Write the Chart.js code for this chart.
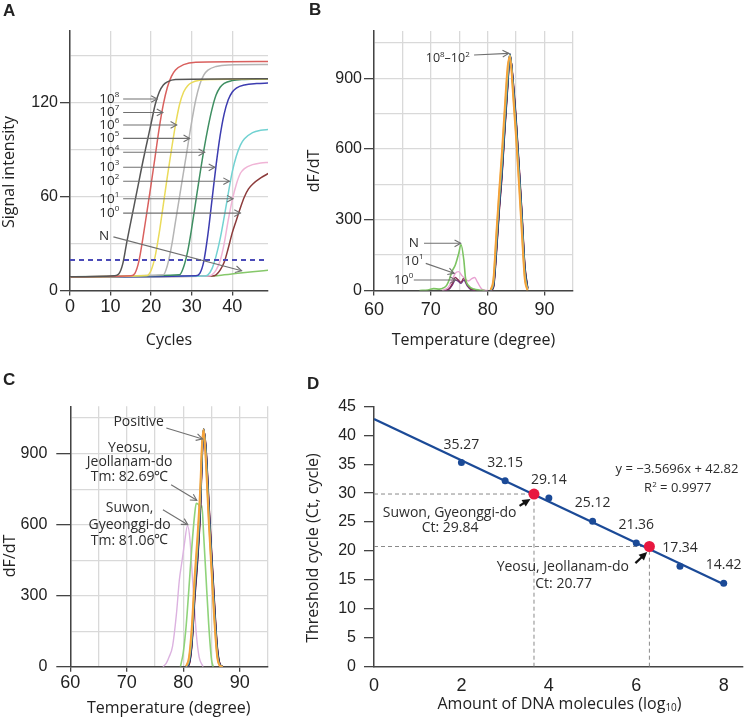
<!DOCTYPE html>
<html>
<head>
<meta charset="utf-8">
<script src="https://cdn.jsdelivr.net/npm/chart.js@4.4.1/dist/chart.umd.min.js"></script>
<style>
  html, body { margin: 0; padding: 0; background: #fff; }
  #wrap { position: relative; width: 748px; height: 726px; overflow: hidden; }
  canvas { position: absolute; }
  .tag { position: absolute; font: bold 17px "Liberation Sans", Arial, sans-serif; line-height: 17px; color: #222; }
</style>
</head>
<body>
<div id="wrap">
  <canvas id="cA" width="290" height="363" style="left:0;top:0"></canvas>
  <canvas id="cB" width="458" height="363" style="left:290px;top:0"></canvas>
  <canvas id="cC" width="290" height="363" style="left:0;top:363px"></canvas>
  <canvas id="cD" width="458" height="363" style="left:290px;top:363px"></canvas>
  <div class="tag" style="left:3px;top:2px">A</div>
  <div class="tag" style="left:309px;top:1px">B</div>
  <div class="tag" style="left:3px;top:371px">C</div>
  <div class="tag" style="left:307px;top:375px">D</div>
</div>
<script>
// ---------- A: amplification curves (cycle, signal) ----------
const aCyc8 = [0, 11, 12, 13, 14, 15, 16, 17, 18, 19, 20, 21, 22, 23, 24, 26, 49];
const aSig8 = [8.8, 9.5, 10.5, 17, 31, 44, 57, 70, 83, 95, 107, 119, 127, 131.5, 133.5, 135, 135.5];
const aCyc7 = [0, 15, 16, 17, 18, 19, 20, 21, 22, 23, 24, 25, 26, 28, 31, 49];
const aSig7 = [8.8, 9.4, 11, 19, 34, 51, 68, 86, 104, 119, 130, 137, 141, 144.5, 146, 146.5];
const aCyc6 = [0, 19, 20, 21, 22, 23, 24, 25, 26, 27, 28, 29, 30, 32, 35, 49];
const aSig6 = [8.8, 9.6, 13, 22, 37, 55, 73, 90, 106, 119, 127, 131, 133, 134.5, 135, 135.3];
const aCyc5 = [0, 23, 24, 25, 26, 27, 28, 29, 30, 31, 32, 33, 34, 36, 39, 49];
const aSig5 = [8.8, 10, 16, 28, 44, 60, 76, 92, 108, 122, 132, 138, 141, 143.3, 144.3, 144.5];
const aCyc4 = [0, 27, 28, 29, 30, 31, 32, 33, 34, 35, 36, 37, 38, 40, 43, 49];
const aSig4 = [8.8, 10, 15, 25, 40, 57, 74, 90, 104, 116, 125, 130, 132.5, 134.3, 135, 135.3];
const aCyc3 = [0, 31, 32, 33, 34, 35, 36, 37, 38, 39, 40, 41, 43, 46, 49];
const aSig3 = [8.8, 9.5, 11, 19, 36, 58, 80, 99, 113, 122, 127, 129.5, 131.5, 132.4, 132.7];
const aCyc2 = [0, 33, 34, 35, 36, 37, 38, 39, 40, 41, 42, 43, 45, 47, 49];
const aSig2 = [8.8, 9.3, 10, 14, 22, 33, 47, 62, 76, 86, 93, 97, 101, 102.5, 103];
const aCyc1 = [0, 34, 35, 36, 37, 38, 39, 40, 41, 42, 43, 45, 47, 49];
const aSig1 = [8.8, 9.3, 10, 13, 19, 30, 45, 58, 68, 75, 78, 80.5, 81.5, 82];
const aCyc0 = [0, 35, 36, 37, 38, 39, 40, 41, 42, 43, 44, 45, 47, 49];
const aSig0 = [8.8, 9.3, 10, 13, 18, 27, 37, 45, 53, 60, 65, 68, 72, 75];
const aCycN = [0, 34, 38, 42, 45, 49];
const aSigN = [8.8, 9.2, 10, 11.2, 12, 13];
const aThreshold = 19.5;

// ---------- B: melt curves of the standards (temperature, dF/dT) ----------
const bTemp = [80.5, 81, 81.5, 82, 82.5, 83, 83.5, 83.9, 84.5, 85, 85.5, 86, 86.5, 87];
const bQ8 = [2, 50, 240, 420, 590, 780, 950, 990, 810, 640, 445, 240, 50, 0];
const bQ7 = [1, 40, 220, 400, 565, 755, 925, 998, 830, 660, 470, 265, 65, 2];
const bQ6 = [0, 28, 190, 370, 525, 720, 895, 1000, 850, 690, 500, 300, 85, 5];
const bQ5 = [0, 22, 175, 355, 510, 705, 885, 1003, 860, 700, 510, 310, 95, 8];
const bQ4 = [0, 20, 170, 350, 505, 700, 880, 1001, 862, 703, 513, 313, 98, 8];
const bQ3 = [0, 16, 160, 340, 495, 690, 870, 998, 870, 712, 522, 322, 105, 10];
const bQ2 = [0, 14, 155, 335, 490, 685, 865, 995, 875, 718, 528, 328, 110, 12];
const bTempN = [68, 69.5, 70.5, 71.5, 72.3, 72.8, 73.3, 73.7, 74.3, 74.9, 75.3, 75.8, 76.1, 76.7, 77.6, 78.5, 79.5];
const bNeg   = [0, 2, 8, 6, 12, 23, 50, 80, 108, 157, 195, 129, 52, 19, 6, 2, 0];
const bTemp1 = [72, 73, 73.6, 74.3, 74.9, 75.5, 76.1, 76.6, 77.2, 77.7, 78.2, 79, 80];
const bQ1    = [0, 12, 35, 73, 80, 62, 48, 40, 50, 55, 35, 5, 0];
const bTemp0 = [72.5, 73.3, 73.8, 74.3, 74.8, 75.3, 75.8, 76.4, 77, 77.8];
const bQ0a   = [0, 10, 30, 55, 45, 35, 52, 25, 8, 0];
const bQ0b   = [0, 8, 24, 44, 40, 30, 44, 20, 5, 0];

// ---------- C: melt curves of field samples ----------
const cTemp = [80.5, 81, 81.5, 82, 82.5, 83, 83.3, 83.6, 84, 84.5, 85, 85.5, 86, 86.5, 87];
const cPos1 = [2, 40, 170, 380, 550, 760, 940, 1000, 860, 610, 400, 190, 40, 3, 0];
const cPos2 = [1, 30, 140, 350, 515, 725, 915, 1003, 880, 640, 420, 210, 50, 4, 0];
const cPos3 = [0, 20, 120, 330, 490, 700, 900, 1002, 900, 660, 440, 230, 60, 5, 0];
const cPos4 = [0, 15, 105, 310, 470, 680, 885, 1005, 910, 675, 455, 245, 70, 7, 0];
const cPos5 = [0, 12, 100, 300, 460, 670, 880, 1005, 915, 685, 465, 255, 75, 8, 0];
const cPos6 = [0, 10, 95, 290, 450, 660, 870, 1000, 920, 695, 475, 265, 80, 9, 0];
const cPos7 = [0, 8, 90, 280, 440, 650, 865, 998, 925, 700, 480, 270, 85, 10, 0];
const cTempYeosu = [79.5, 80, 80.5, 81, 81.5, 82, 82.3, 82.7, 83, 83.3, 83.6, 84, 84.5, 85, 85.3];
const cYeosu     = [0, 60, 170, 330, 500, 640, 690, 685, 670, 680, 560, 390, 180, 30, 0];
const cTempSuwon = [76.4, 77, 77.5, 78.1, 78.8, 79.3, 79.8, 80.2, 80.75, 81.2, 81.5, 81.9, 82.3, 82.8, 83.5];
const cSuwon     = [0, 15, 42, 86, 225, 365, 450, 519, 596, 533, 420, 280, 140, 42, 0];

// ---------- D: standard curve ----------
const dLog = [2, 3, 4, 5, 6, 7, 8];
const dCt = [35.27, 32.15, 29.14, 25.12, 21.36, 17.34, 14.42];
const fitX = [0, 8];
const fitY = [42.82, 14.26];
const sampleLog = [3.66, 6.3];
const sampleCt = [29.84, 20.77];

// ---------- helpers ----------
Chart.defaults.font.family = '"Liberation Sans", Arial, sans-serif';
Chart.defaults.color = '#222';
Chart.defaults.animation = false;

const pts = (xs, ys) => xs.map((x, i) => ({ x: x, y: ys[i] }));
const curve = (xs, ys, color, w) => ({
  data: pts(xs, ys), showLine: true, borderColor: color, borderWidth: w || 1.5,
  pointRadius: 0, fill: false, cubicInterpolationMode: 'monotone'
});

function label(c, x, y, it) {
  const size = it.size || 14, fam = it.font || '"Open Sans"';
  const parts = it.parts || [{ t: it.text }];
  const f = p => ((p.sup || p.sub) ? Math.round(size * 0.62) : size) + 'px ' + (p.serif ? '"Liberation Serif"' : fam);
  let w = 0;
  parts.forEach(p => { c.font = f(p); p.w = c.measureText(p.t).width; w += p.w; });
  c.save();
  c.translate(x, y);
  if (it.rot) c.rotate(-Math.PI / 2);
  c.fillStyle = it.color || '#2d2d2d';
  c.textBaseline = 'middle';
  c.textAlign = 'left';
  let cx = it.align === 'left' ? 0 : (it.align === 'right' ? -w : -w / 2);
  parts.forEach(p => {
    c.font = f(p);
    c.fillText(p.t, cx, p.sup ? -size * 0.33 : (p.sub ? size * 0.22 : 0));
    cx += p.w;
  });
  c.restore();
}

function arrow(c, x1, y1, x2, y2, it) {
  const a = Math.atan2(y2 - y1, x2 - x1), L = it.head || 7, s = it.filled ? 0.45 : 0.5;
  c.save();
  c.strokeStyle = c.fillStyle = it.color || '#707070';
  c.lineWidth = it.width || 1.1;
  c.beginPath();
  c.moveTo(x1, y1);
  if (it.filled) c.lineTo(x2 - L * 0.8 * Math.cos(a), y2 - L * 0.8 * Math.sin(a));
  else c.lineTo(x2, y2);
  c.stroke();
  const hx1 = x2 - L * Math.cos(a - s), hy1 = y2 - L * Math.sin(a - s);
  const hx2 = x2 - L * Math.cos(a + s), hy2 = y2 - L * Math.sin(a + s);
  c.beginPath();
  if (it.filled) { c.moveTo(x2, y2); c.lineTo(hx1, hy1); c.lineTo(hx2, hy2); c.closePath(); c.fill(); }
  else { c.moveTo(hx1, hy1); c.lineTo(x2, y2); c.lineTo(hx2, hy2); c.stroke(); }
  c.restore();
}

// annotations in data units, titles in canvas pixels
function annot(items, titles) {
  return {
    id: 'annot',
    afterDatasetsDraw(chart) {
      const c = chart.ctx, sx = chart.scales.x, sy = chart.scales.y;
      items.forEach(it => {
        if (it.arrow) {
          arrow(c, sx.getPixelForValue(it.arrow[0]), sy.getPixelForValue(it.arrow[1]),
                   sx.getPixelForValue(it.arrow[2]), sy.getPixelForValue(it.arrow[3]), it);
        } else {
          label(c, sx.getPixelForValue(it.at[0]) + (it.dx || 0), sy.getPixelForValue(it.at[1]) + (it.dy || 0), it);
        }
      });
      titles.forEach(t => label(c, t.px[0], t.px[1], Object.assign({ size: 16, color: '#222' }, t)));
    }
  };
}

function axes(o) {
  const tc = (show) => (ctx) => (show(ctx.tick.value) ? '#444' : 'rgba(0,0,0,0)');
  return {
    x: {
      type: 'linear', min: o.x[0], max: o.x[1],
      ticks: { stepSize: o.x[2], includeBounds: false, autoSkip: false, maxRotation: 0,
               padding: o.xpad, font: { size: 18 }, color: '#222',
               callback: v => (o.xl(v) ? v : '') },
      grid: { display: true, drawOnChartArea: o.grid, color: '#d9d9d9', lineWidth: 1.3,
              tickLength: o.xtl, tickWidth: 1.3, tickColor: tc(v => o.xmark && o.xl(v)) },
      border: { display: true, color: '#444', width: 1.5 },
      afterFit: s => { s.height = o.xh; }
    },
    y: {
      type: 'linear', min: o.y[0], max: o.y[1],
      ticks: { stepSize: o.y[2], includeBounds: false, autoSkip: false,
               padding: o.ypad, font: { size: 16 }, color: '#222',
               callback: v => (o.yl(v) ? v : '') },
      grid: { display: true, drawOnChartArea: o.grid, color: '#d9d9d9', lineWidth: 1.3,
              tickLength: o.ytl, tickWidth: 1.3, tickColor: tc(o.yl) },
      border: { display: true, color: '#444', width: 1.5 },
      afterFit: s => { s.width = o.yw; }
    }
  };
}

function make(id, datasets, scales, pad, items, titles) {
  return new Chart(document.getElementById(id), {
    type: 'scatter',
    data: { datasets: datasets },
    options: {
      responsive: false, devicePixelRatio: 1, events: [],
      layout: { padding: pad },
      plugins: { legend: { display: false }, tooltip: { enabled: false } },
      scales: scales
    },
    plugins: [annot(items, titles)]
  });
}

// ---------- Panel A ----------
const aRows = [['8', 122.5, 21.5], ['7', 113.9, 22.9], ['6', 105.9, 26.3], ['5', 97.3, 29.5],
               ['4', 88.4, 33.2], ['3', 78.8, 35.7], ['2', 69.9, 39.3], ['1', 58.7, 40.2], ['0', 49.5, 42.0]];
const aItems = [];
aRows.forEach(r => {
  aItems.push({ at: [7.2, r[1]], parts: [{ t: '10' }, { t: r[0], sup: true }], align: 'left', size: 13.5 });
  aItems.push({ arrow: [13.1, r[1], r[2], r[1]] });
});
aItems.push({ at: [8.4, 34.5], text: 'N', size: 13.5 });
aItems.push({ arrow: [10.7, 34.3, 42.3, 12.6] });

make('cA', [
  { data: pts([0, 48.8], [aThreshold, aThreshold]), showLine: true, borderColor: '#4a4ab8',
    borderWidth: 2, borderDash: [5, 4], pointRadius: 0 },
  curve(aCyc8, aSig8, '#555555'),
  curve(aCyc7, aSig7, '#d9605e'),
  curve(aCyc6, aSig6, '#eadb5a'),
  curve(aCyc5, aSig5, '#b5b5b5'),
  curve(aCyc4, aSig4, '#3f8f62'),
  curve(aCyc3, aSig3, '#3c3cb0'),
  curve(aCyc2, aSig2, '#72d2d2'),
  curve(aCyc1, aSig1, '#f0b4d6'),
  curve(aCyc0, aSig0, '#8c3b3b'),
  curve(aCycN, aSigN, '#86c86a')
], axes({ x: [0, 48.8, 10], xl: v => true, xmark: true, xtl: 5, xpad: 1, xh: 72.5,
          y: [0, 166, 30], yl: v => v % 60 === 0, ytl: 10, ypad: 2, yw: 70, grid: true }),
  { top: 31, right: 22, left: 0, bottom: 0 }, aItems,
  [{ text: 'Cycles', px: [169, 340] }, { text: 'Signal intensity', px: [9, 172], rot: true }]);

// ---------- Panel B ----------
const mainCols = ['#f5a23a', '#e3c26a', '#3a9aa0', '#26307e', '#303030', '#7c3fa0', '#a8322c'];
make('cB', [
  curve(bTemp, bQ8, mainCols[0], 1.8),
  curve(bTemp, bQ7, mainCols[1], 1.8),
  curve(bTemp, bQ6, mainCols[2], 1.8),
  curve(bTemp, bQ5, mainCols[3], 1.8),
  curve(bTemp, bQ4, mainCols[4], 1.8),
  curve(bTemp, bQ3, mainCols[5], 1.8),
  curve(bTemp, bQ2, mainCols[6], 1.8),
  curve(bTempN, bNeg, '#7cc462', 1.6),
  curve(bTemp1, bQ1, '#e8a2d2', 1.4),
  curve(bTemp0, bQ0a, '#8a2f55', 1.4),
  curve(bTemp0, bQ0b, '#6a3a8a', 1.4)
], axes({ x: [60, 95, 5], xl: v => v % 10 === 0, xmark: true, xtl: 5, xpad: 4, xh: 72.5,
          y: [0, 1100, 150], yl: v => v % 300 === 0, ytl: 10, ypad: 2, yw: 84, grid: true }),
  { top: 31, right: 175, left: 0, bottom: 0 },
  [
    { at: [69.1, 984], parts: [{ t: '10' }, { t: '8', sup: true }, { t: '\u201310' }, { t: '2', sup: true }], align: 'left', size: 12.5 },
    { arrow: [77.6, 998, 83.7, 1005] },
    { at: [67.0, 200], text: 'N', size: 13.5 },
    { arrow: [68.8, 200, 75.25, 200] },
    { at: [65.3, 125], parts: [{ t: '10' }, { t: '1', sup: true }], align: 'left', size: 13 },
    { arrow: [69.1, 115, 74.1, 73] },
    { at: [63.5, 44.5], parts: [{ t: '10' }, { t: '0', sup: true }], align: 'left', size: 13 },
    { arrow: [67.0, 44.5, 74.4, 44.5] }
  ],
  [{ text: 'Temperature (degree)', px: [183.5, 340] }, { text: 'dF/dT', px: [24, 171], rot: true }]);

// ---------- Panel C ----------
make('cC', [
  curve(cTemp, cPos1, mainCols[0], 1.8),
  curve(cTemp, cPos2, mainCols[1], 1.8),
  curve(cTemp, cPos3, mainCols[2], 1.8),
  curve(cTemp, cPos4, mainCols[3], 1.8),
  curve(cTemp, cPos5, mainCols[4], 1.8),
  curve(cTemp, cPos6, mainCols[5], 1.8),
  curve(cTemp, cPos7, mainCols[6], 1.8),
  curve(cTempYeosu, cYeosu, '#8fd37a', 1.6),
  curve(cTempSuwon, cSuwon, '#dcb2e0', 1.4)
], axes({ x: [60, 95, 5], xl: v => v % 10 === 0, xmark: true, xtl: 5, xpad: 1, xh: 59.3,
          y: [0, 1100, 150], yl: v => v % 300 === 0, ytl: 14, ypad: 9, yw: 70.3, grid: true }),
  { top: 43.3, right: 22, left: 0, bottom: 0 },
  [
    { at: [72.1, 1032], text: 'Positive' },
    { arrow: [77.0, 1008, 83.4, 962] },
    { at: [70.5, 924], text: 'Yeosu,' },
    { at: [70.5, 863], text: 'Jeollanam-do' },
    { at: [70.5, 800], parts: [{ t: 'Tm: 82.69' }, { t: '\u2103', serif: true }] },
    { arrow: [77.85, 769, 82.4, 703] },
    { at: [70.5, 670], text: 'Suwon,' },
    { at: [70.5, 600], text: 'Gyeonggi-do' },
    { at: [70.5, 532], parts: [{ t: 'Tm: 81.06' }, { t: '\u2103', serif: true }] },
    { arrow: [76.4, 663, 80.8, 600] }
  ],
  [{ text: 'Temperature (degree)', px: [168.7, 345] }, { text: 'dF/dT', px: [10, 193], rot: true }]);

// ---------- Panel D ----------
const dGuides = [];
sampleLog.forEach((x, i) => {
  const g = { showLine: true, borderColor: '#8a8a8a', borderWidth: 1, borderDash: [4, 3], pointRadius: 0 };
  dGuides.push(Object.assign({ data: pts([0, x], [sampleCt[i], sampleCt[i]]) }, g));
  dGuides.push(Object.assign({ data: pts([x, x], [0, sampleCt[i]]) }, g));
});
const dItems = dLog.map((x, i) => ({ at: [x, dCt[i]], dy: -18, text: dCt[i].toFixed(2) }));
dItems.push(
  { at: [6.93, 34.17], text: 'y = \u22123.5696x + 42.82', size: 13 },
  { at: [6.95, 30.76], parts: [{ t: 'R' }, { t: '2', sup: true }, { t: ' = 0.9977' }], size: 13 },
  { at: [1.73, 26.6], text: 'Suwon, Gyeonggi-do' },
  { at: [1.74, 23.9], text: 'Ct: ' + sampleCt[0].toFixed(2) },
  { arrow: [3.33, 27.8, 3.58, 29.0], color: '#111', width: 2.2, head: 9, filled: true },
  { at: [4.32, 17.2], text: 'Yeosu, Jeollanam-do' },
  { at: [4.34, 14.3], text: 'Ct: ' + sampleCt[1].toFixed(2) },
  { arrow: [5.98, 17.9, 6.25, 19.8], color: '#111', width: 2.2, head: 9, filled: true }
);
make('cD', [
  { data: pts(sampleLog, sampleCt), pointRadius: 5.5, backgroundColor: '#e8173f', borderWidth: 0 },
  { data: pts(dLog, dCt), pointRadius: 3.5, backgroundColor: '#1b4a97', borderWidth: 0 },
  { data: pts(fitX, fitY), showLine: true, borderColor: '#1b4a97', borderWidth: 2.2, pointRadius: 0 }
].concat(dGuides),
  axes({ x: [0, 8.43, 2], xl: v => true, xmark: false, xtl: 5, xpad: 4, xh: 59.3,
         y: [0, 45, 5], yl: v => true, ytl: 10, ypad: 8, yw: 84, grid: false }),
  { top: 43.3, right: 3, left: 0, bottom: 0 }, dItems,
  [{ parts: [{ t: 'Amount of DNA molecules (log' }, { t: '10', sub: true }, { t: ')' }], px: [269.5, 341.7] },
   { text: 'Threshold cycle (Ct, cycle)', px: [23.3, 185], rot: true }]);
</script>
</body>
</html>
